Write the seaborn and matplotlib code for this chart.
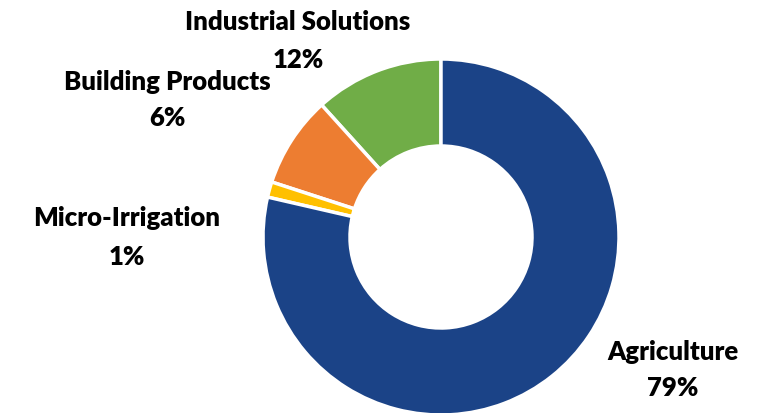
import matplotlib.pyplot as plt
import seaborn as sns

segments = ["Industrial Solutions", "Building Products", "Micro-Irrigation", "Agriculture"]
shares = [11.7, 8.3, 1.4, 78.6]
pct_labels = ["12%", "6%", "1%", "79%"]
colors = ["#70AD47", "#ED7D31", "#FFC000", "#1B4387"]

sns.set_theme(style="white")
plt.rcParams["font.family"] = ["Lato", "DejaVu Sans"]

fig = plt.figure(figsize=(7.7, 4.14), dpi=100)
ax = fig.add_axes([0, 0, 1, 1])

# donut, centre and radius in pixel units
ax.pie(
    shares,
    colors=colors,
    startangle=90,
    counterclock=True,
    center=(441, 414 - 238),
    radius=178,
    wedgeprops=dict(width=87, edgecolor="white", linewidth=2.5),
    frame=True,
)
ax.set_xlim(0, 770)
ax.set_ylim(0, 414)
ax.set_aspect("equal")
ax.axis("off")

# label anchor points (x, y from top)
label_pos = [(298, 22, 60), (167, 82, 118), (127, 218, 257), (673, 352, 388)]
for name, pct, (x, y1, y2) in zip(segments, pct_labels, label_pos):
    ax.text(x, 414 - y1, name, ha="center", va="center",
            fontsize=18.5, fontweight="heavy", color="black")
    ax.text(x, 414 - y2, pct, ha="center", va="center",
            fontsize=18.5, fontweight="heavy", color="black")

fig.savefig("out.png", dpi=100)
